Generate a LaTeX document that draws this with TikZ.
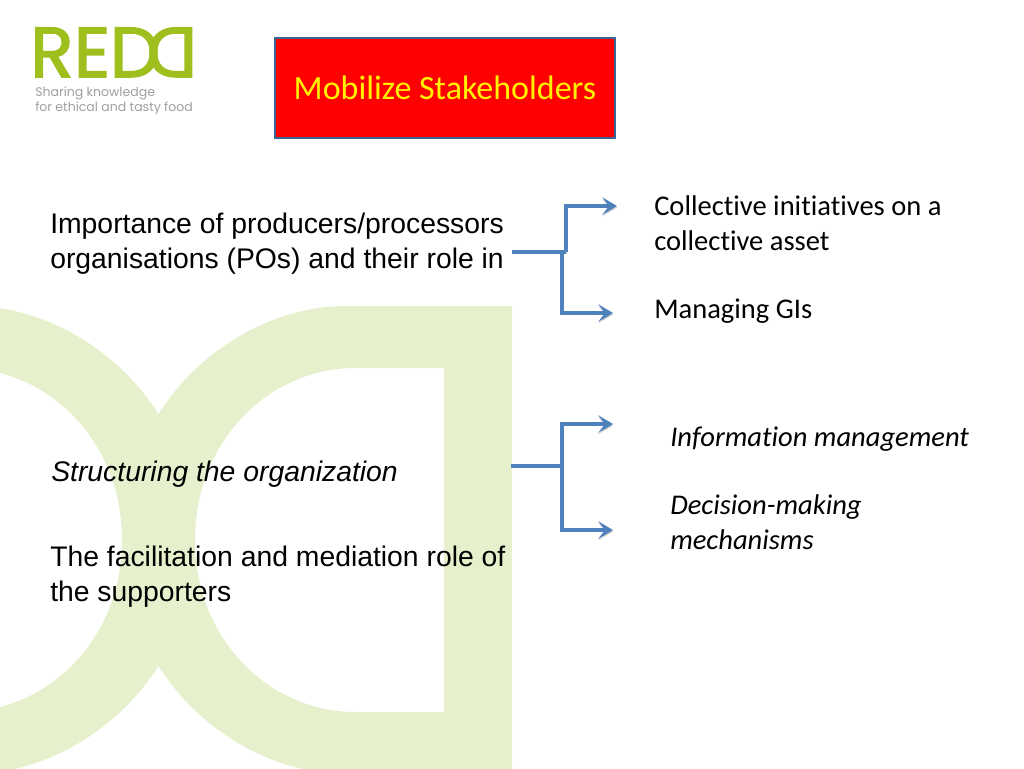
\documentclass[tikz,border=0pt]{standalone}
\usepackage{fontspec}
\usetikzlibrary{arrows.meta}
\setmainfont{Liberation Sans}
\newfontfamily\calibri[Ligatures=NoCommon]{Carlito}
\newfontfamily\logofont[FakeBold=2.2]{Poppins}
\newfontfamily\tagfont{Poppins}
\definecolor{leaf}{HTML}{9FBF1F}
\definecolor{wash}{HTML}{E6F0CD}
\definecolor{linkblue}{HTML}{4F81BD}
\definecolor{boxblue}{HTML}{3A6595}
\begin{document}
\begin{tikzpicture}[x=0.75pt,y=-0.75pt,
    arialtext/.style={anchor=base west,align=left,inner sep=0pt,font=\fontsize{21.25}{25.6}\selectfont},
    calibritext/.style={anchor=base west,align=left,inner sep=0pt,font=\calibri\fontsize{21.4}{25.6}\selectfont},
    logoletter/.style={anchor=base,inner sep=0pt,text=leaf,font=\logofont\fontsize{53}{53}\selectfont},
    logoline/.style={anchor=base west,align=left,inner sep=0pt,text=black!38,font=\tagfont\fontsize{9.4}{11.25}\selectfont},
    linkarrow/.style={draw=linkblue,line width=2.6pt,-{Stealth[length=11pt,width=13pt,inset=5pt]},
      preaction={draw=black!35,opacity=0.5,transform canvas={yshift=-1.2pt}}},
    linkstem/.style={draw=linkblue,line width=2.6pt,
      preaction={draw=black!35,opacity=0.5,transform canvas={yshift=-1.2pt}}}]
    \useasboundingbox(0,0)rectangle(1024,768);
    \begin{scope}
      \clip(0,0)rectangle(1024,768);
      % rings behind the text
      \fill[wash,even odd rule](512,306)--(345,306)..controls(240,306)and(122,400)..(122,540)
        ..controls(122,680)and(240,774)..(345,774)--(512,774)--cycle
        (444,368)--(355,368)..controls(270,368)and(195,440)..(195,540)
        ..controls(195,640)and(270,712)..(355,712)--(444,712)--cycle;
      \fill[wash,even odd rule](-28,306)..controls(77,306)and(195,400)..(195,540)
        ..controls(195,680)and(77,774)..(-28,774)--cycle
        (-38,368)..controls(47,368)and(122,440)..(122,540)
        ..controls(122,640)and(47,712)..(-38,712)--cycle;
    \end{scope}
    % logo
    \node[logoletter](logor) at(52,77){R};
    \node[logoletter](logoe) at(92,77){E};
    \node[logoletter](logod) at(135,77){D};
    \node[logoletter,xscale=-1](logob) at(172,77){D};
    \node[logoline](logotag) at(35,111){Sharing knowledge\\for ethical and tasty food};
    % title
    \node[draw=boxblue,line width=1.6pt,fill=red,text=yellow,
      font=\calibri\fontsize{25.5}{30}\selectfont,inner sep=0pt,
      minimum width=255pt,minimum height=75pt](title) at(445,88){\raisebox{-1.6pt}{Mobilize Stakeholders}};
    % texts
    \node[arialtext](importance) at(50,268){Importance of producers/processors\\organisations (POs) and their role in};
    \node[arialtext](structuring) at(51,481){\itshape Structuring the organization};
    \node[arialtext](facilitation) at(50,601){The facilitation and mediation role of\\the supporters};
    \node[calibritext](collective) at(654,250){Collective initiatives on a\\collective asset};
    \node[calibritext](managing) at(654,318){Managing GIs};
    \node[calibritext](information) at(670,446){\itshape Information management};
    \node[calibritext,font=\calibri\itshape\fontsize{21.4}{25.6}\selectfont](decision) at(670,549){Decision-making\\mechanisms};
    % connectors
    \coordinate(froma) at(512,252);
    \coordinate(upa) at(617,206);
    \coordinate(downa) at(613,313);
    \coordinate(fromb) at(511,466);
    \coordinate(upb) at(613,424);
    \coordinate(downb) at(613,530);
    \foreach \f/\x/\t in {froma/566/upa,froma/562/downa,fromb/562/upb,fromb/562/downb}{
      \draw[linkarrow](\x,0|-\f)|-(\t);
    }
    \draw[linkstem](froma)--(566,0|-froma);
    \draw[linkstem](fromb)--(562,0|-fromb);
  \end{tikzpicture}
\end{document}
